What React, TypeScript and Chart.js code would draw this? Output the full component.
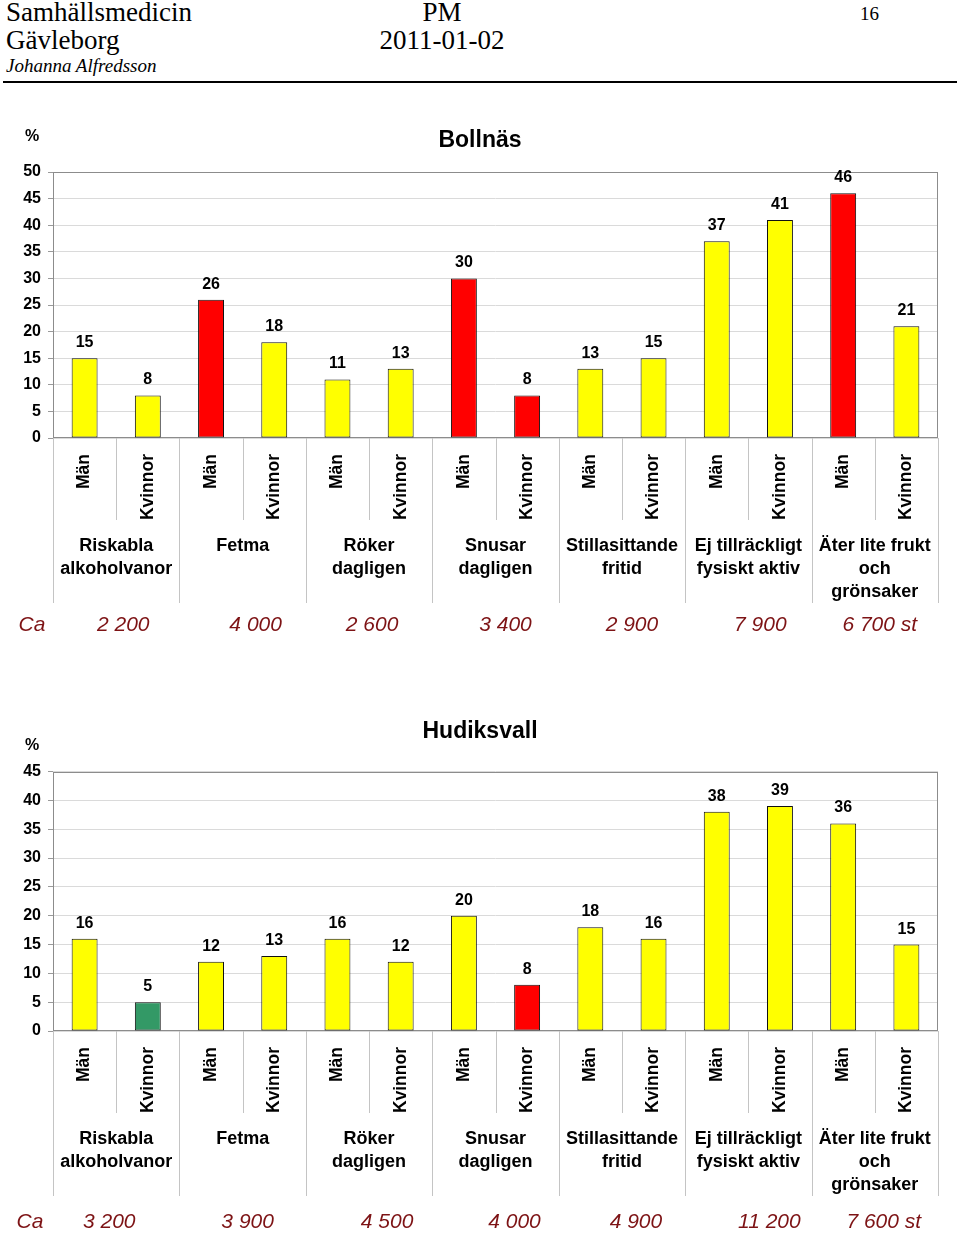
import React, { useEffect, useRef } from 'react';
import { Chart, registerables } from 'chart.js';

Chart.register(...registerables);

// ---------- data ----------
const sexLabels = [
  'Män', 'Kvinnor', 'Män', 'Kvinnor', 'Män', 'Kvinnor', 'Män', 'Kvinnor',
  'Män', 'Kvinnor', 'Män', 'Kvinnor', 'Män', 'Kvinnor',
];
const groupLabels = [
  ['Riskabla', 'alkoholvanor'],
  ['Fetma'],
  ['Röker', 'dagligen'],
  ['Snusar', 'dagligen'],
  ['Stillasittande', 'fritid'],
  ['Ej tillräckligt', 'fysiskt aktiv'],
  ['Äter lite frukt', 'och', 'grönsaker'],
];
const bollnasValues = [15, 8, 26, 18, 11, 13, 30, 8, 13, 15, 37, 41, 46, 21];
const bollnasStatus = ['n', 'n', 'h', 'n', 'n', 'n', 'h', 'h', 'n', 'n', 'n', 'n', 'h', 'n'];
const bollnasCounts = ['2 200', '4 000', '2 600', '3 400', '2 900', '7 900', '6 700 st'];
const bollnasMax = 50;

const hudiksvallValues = [16, 5, 12, 13, 16, 12, 20, 8, 18, 16, 38, 39, 36, 15];
const hudiksvallStatus = ['n', 'l', 'n', 'n', 'n', 'n', 'n', 'h', 'n', 'n', 'n', 'n', 'n', 'n'];
const hudiksvallCounts = ['3 200', '3 900', '4 500', '4 000', '4 900', '11 200', '7 600 st'];
const hudiksvallMax = 45;

const statusColors: Record<string, string> = { n: '#ffff00', h: '#ff0000', l: '#339966' };

const SANS = '"Liberation Sans", Arial, Helvetica, sans-serif';
const SERIF = '"Liberation Serif", "Times New Roman", serif';

// ---------- plugin ----------
const annotPlugin = {
  id: 'annot',
  beforeDatasetsDraw(chart: any) {
    const { ctx, chartArea } = chart;
    const l = Math.round(chartArea.left) + 0.5;
    const r = Math.round(chartArea.right) - 0.5;
    const t = Math.round(chartArea.top) + 0.5;
    const b = Math.round(chartArea.bottom) - 0.5;
    ctx.save();
    ctx.strokeStyle = '#8c8c8c';
    ctx.lineWidth = 1;
    ctx.strokeRect(l, t, r - l, b - t);
    ctx.restore();
  },
  afterDatasetsDraw(chart: any) {
    const { ctx } = chart;
    const meta = chart.getDatasetMeta(0);
    const data = chart.data.datasets[0].data;
    ctx.save();
    ctx.font = `bold 16px ${SANS}`;
    ctx.fillStyle = '#000';
    ctx.textAlign = 'center';
    ctx.textBaseline = 'alphabetic';
    meta.data.forEach((bar: any, i: number) => {
      ctx.fillText(String(data[i]), bar.x, bar.y - 11);
    });
    ctx.restore();
  },
  afterDraw(chart: any, _args: any, opts: any) {
    const { ctx, chartArea } = chart;
    const xs = chart.scales.x;
    const n = chart.data.labels.length;
    const half = (xs.getPixelForValue(1) - xs.getPixelForValue(0)) / 2;
    const bottom = chartArea.bottom;
    ctx.save();
    // separators
    ctx.strokeStyle = '#c4c4c4';
    ctx.lineWidth = 1;
    for (let i = 0; i <= n; i++) {
      const x = i < n ? xs.getPixelForValue(i) - half : xs.getPixelForValue(n - 1) + half;
      const px = Math.round(x) + 0.5;
      const len = i % 2 === 0 ? opts.groupLen : opts.minorLen;
      ctx.beginPath();
      ctx.moveTo(px, bottom);
      ctx.lineTo(px, bottom + len);
      ctx.stroke();
    }
    // group labels
    ctx.fillStyle = '#000';
    ctx.font = `bold 18px ${SANS}`;
    ctx.textAlign = 'center';
    ctx.textBaseline = 'middle';
    opts.groups.forEach((lines: string[], g: number) => {
      const cx = (xs.getPixelForValue(2 * g) + xs.getPixelForValue(2 * g + 1)) / 2;
      lines.forEach((line, k) => {
        ctx.fillText(line, cx, bottom + opts.groupY + k * 23);
      });
    });
    // count row
    ctx.fillStyle = '#7d1315';
    ctx.font = `italic 21px ${SANS}`;
    ctx.fillText('Ca', opts.caX, bottom + opts.countY);
    opts.counts.forEach((c: string, g: number) => {
      const cx = (xs.getPixelForValue(2 * g) + xs.getPixelForValue(2 * g + 1)) / 2;
      ctx.fillText(c, cx + opts.countOffsets[g], bottom + opts.countY);
    });
    // percent sign
    ctx.fillStyle = '#000';
    ctx.font = `bold 16px ${SANS}`;
    ctx.fillText('%', opts.pctX, opts.pctY);
    ctx.restore();
  },
};

type ChartProps = {
  title: string;
  values: number[];
  status: string[];
  counts: string[];
  max: number;
  height: number;
  xAxisHeight: number;
  titlePadTop: number;
  titlePadBottom: number;
  pctY: number;
  caX: number;
  countOffsets: number[];
  countY: number;
};

function BarChart(p: ChartProps) {
  const ref = useRef<HTMLCanvasElement | null>(null);
  useEffect(() => {
    if (!ref.current) return;
    const chart = new Chart(ref.current, {
      type: 'bar',
      data: {
        labels: sexLabels,
        datasets: [
          {
            data: p.values,
            backgroundColor: p.status.map((s) => statusColors[s]),
            borderColor: '#111',
            borderWidth: 1,
            borderSkipped: false,
            categoryPercentage: 1,
            barPercentage: 0.41,
          },
        ],
      },
      options: {
        responsive: false,
        maintainAspectRatio: false,
        animation: false,
        layout: { padding: { left: 22, right: 22, top: 0, bottom: 0 } },
        plugins: {
          legend: { display: false },
          tooltip: { enabled: false },
          title: {
            display: true,
            text: p.title,
            color: '#000',
            font: { family: SANS, size: 23, weight: 'bold', lineHeight: 1.2 },
            padding: { top: p.titlePadTop, bottom: p.titlePadBottom },
          },
          annot: {
            groups: groupLabels,
            counts: p.counts,
            countOffsets: p.countOffsets,
            minorLen: 82,
            groupLen: 165,
            groupY: 108,
            countY: p.countY,
            caX: p.caX,
            pctX: 32,
            pctY: p.pctY,
          },
        } as any,
        scales: {
          x: {
            grid: { display: false, drawTicks: false },
            border: { display: false },
            ticks: {
              autoSkip: false,
              minRotation: 90,
              maxRotation: 90,
              padding: 16,
              color: '#000',
              font: { family: SANS, size: 17.5, weight: 'bold' },
            },
            afterFit: (scale: any) => {
              scale.height = p.xAxisHeight;
            },
          },
          y: {
            min: 0,
            max: p.max,
            ticks: {
              stepSize: 5,
              padding: 7,
              color: '#000',
              font: { family: SANS, size: 16, weight: 'bold' },
            },
            grid: { color: '#dadada', tickColor: '#9a9a9a', tickLength: 5 },
            border: { display: false },
            afterFit: (scale: any) => {
              scale.width = 31;
            },
          },
        },
      } as any,
      plugins: [annotPlugin as any],
    });
    return () => chart.destroy();
  }, []);
  return (
    <canvas
      ref={ref}
      width={960}
      height={p.height}
      style={{ display: 'block', width: 960, height: p.height }}
    />
  );
}

const abs = (top: number, left: number, extra: React.CSSProperties = {}): React.CSSProperties => ({
  position: 'absolute',
  top,
  left,
  whiteSpace: 'nowrap',
  ...extra,
});

export default function App() {
  return (
    <div style={{ position: 'absolute', left: 0, top: 0, width: 960, height: 1237, background: '#fff', overflow: 'hidden' }}>
      <div style={abs(-1, 6, { font: `27px/27px ${SERIF}`, color: '#000' })}>Samhällsmedicin</div>
      <div style={abs(27, 6, { font: `27px/27px ${SERIF}`, color: '#000' })}>Gävleborg</div>
      <div style={abs(-1, 342, { width: 200, textAlign: 'center', font: `27px/27px ${SERIF}`, color: '#000' })}>PM</div>
      <div style={abs(27, 342, { width: 200, textAlign: 'center', font: `27px/27px ${SERIF}`, color: '#000' })}>2011-01-02</div>
      <div style={abs(4, 860, { font: `19px/19px ${SERIF}`, color: '#000' })}>16</div>
      <div style={abs(56, 6, { font: `italic 19px/19px ${SERIF}`, color: '#000' })}>Johanna Alfredsson</div>
      <div style={abs(81, 3, { width: 954, height: 2, background: '#000' })} />

      <div style={abs(100, 0)}>
        <BarChart
          title="Bollnäs"
          values={bollnasValues}
          status={bollnasStatus}
          counts={bollnasCounts}
          max={bollnasMax}
          height={545}
          xAxisHeight={207}
          titlePadTop={27}
          titlePadBottom={17.4}
          pctY={37}
          caX={32}
          countOffsets={[7, 13, 3, 10, 10, 12, 5]}
          countY={187}
        />
      </div>
      <div style={abs(700, 0)}>
        <BarChart
          title="Hudiksvall"
          values={hudiksvallValues}
          status={hudiksvallStatus}
          counts={hudiksvallCounts}
          max={hudiksvallMax}
          height={537}
          xAxisHeight={206}
          titlePadTop={18.2}
          titlePadBottom={25.7}
          pctY={46}
          caX={30}
          countOffsets={[-7, 5, 18, 19, 14, 21, 9]}
          countY={191}
        />
      </div>
    </div>
  );
}
